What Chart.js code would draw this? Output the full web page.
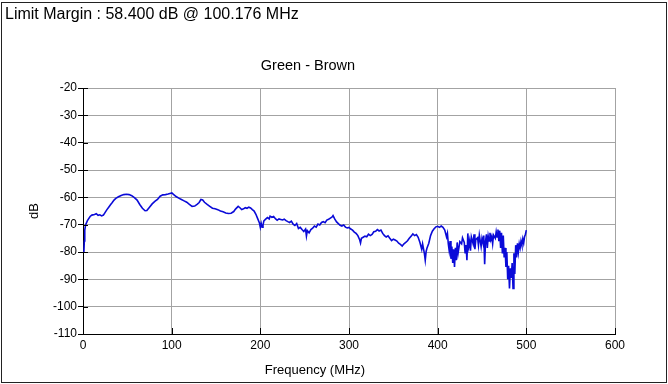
<!DOCTYPE html>
<html>
<head>
<meta charset="utf-8">
<script src="https://cdn.jsdelivr.net/npm/chart.js@4/dist/chart.umd.min.js"></script>
<style>
  body { margin: 0; background: #fff; }
  #wrap { position: relative; width: 668px; height: 384px; font-family: "Liberation Sans", Arial, sans-serif; color: #000; }
  #frame { position: absolute; left: 1px; top: 2px; width: 664px; height: 379px; border: 1px solid #222; }
  #topTitle { position: absolute; left: 5px; top: 5px; font-size: 16px; white-space: nowrap; }
  #chartTitle { position: absolute; left: 208px; width: 200px; top: 57px; font-size: 14.5px; text-align: center; }
  #xTitle { position: absolute; left: 215px; width: 200px; top: 362px; font-size: 13px; text-align: center; }
  canvas { position: absolute; left: 0; top: 0; }
</style>
</head>
<body>
<div id="wrap">
  <canvas id="mycanvas" width="668" height="384"></canvas>
  <div id="frame"></div>
  <div id="topTitle">Limit Margin : 58.400 dB @ 100.176 MHz</div>
  <div id="chartTitle">Green - Brown</div>
  <div id="xTitle">Frequency (MHz)</div>
</div>
<script>
var Freq = [1,1.5,2,3,5,8,10,13,15,17,19,21,23,25,27,29,31,33,35,37,40,43,46,49,52,55,58,61,64,67,70,72,75,78,81,84,87,90,93,96,99,100.2,102,105,108,111,114,117,120,123,126,129,131,133,135,137,140,143,146,149,152,155,158,161,164,167,170,172,175,177,179,181,183,185,187,189,191,193,195,197,199,200,201,202,203,204,206,208,210,211,213,215,217,219,221,223,225,227,229,231,233,235,237,239,241,243,245,247,249,251,252,253,255,257,259,261,263,265,267,269,271,273,275,277,279,281,282,284,286,288,290,292,294,296,298,300,302,304,306,308,310,312,313,314,316,318,320,322,324,326,328,330,332,334,336,338,340,342,344,346,348,350,352,354,356,358,360,362,364,366,368,370,372,374,376,378,380,382,383,385,386,387,388,390,392,394,396,398,400,402,404,406,408,410,411,412,413,414,415,416,417,418,419,420,421,422,423,425,427,428,430,431,432,433,434,435,436,437,438,440,441,442,443,445,446,447,449,450,451,452,453,454,455,456,457,458,459,460,461,462,463,465,466,467,468,469,470,471,472,473,474,475,476,477,478,479,480,481,482,483,484,485,486,487,488,489,490,491,492,493,494,495,496,497,498,499,500];
var GreenBrown = [-80,-76,-72,-70,-68.5,-67,-66.5,-66.3,-66,-66.6,-66.4,-66.8,-66.5,-65.5,-64.5,-63.6,-62.7,-61.9,-61,-60.4,-59.8,-59.3,-59,-58.9,-59,-59.4,-60.1,-61,-62.6,-64,-64.9,-64.8,-63.6,-62.4,-61.5,-60.8,-59.6,-59.1,-59,-58.8,-58.5,-58.4,-58.9,-59.7,-60.3,-60.8,-61.3,-61.8,-62.6,-63.3,-63.2,-62.5,-61.9,-60.8,-61,-61.8,-62.6,-63.3,-64,-64.2,-64.5,-65,-65.3,-65.7,-65.9,-65.8,-65.2,-64.3,-63.3,-63.8,-64.5,-64.2,-63.8,-64,-63.6,-63.9,-64.5,-65,-66.2,-67.8,-69.4,-71,-69.5,-70.9,-70.2,-68.6,-68,-67.4,-67.9,-66.9,-67.3,-67,-67.8,-68.4,-67.9,-68.1,-68.3,-68,-68.5,-68.9,-69.2,-68.7,-69.8,-70.3,-69.6,-71.4,-71,-71.8,-72.5,-71.6,-74.2,-72.2,-73,-71.8,-71.3,-70.5,-70.9,-69.8,-70.1,-69.2,-68.9,-69.3,-68.3,-68,-67.6,-67.2,-66.7,-68,-69,-69.6,-70.2,-70.5,-70.1,-70.9,-71.2,-71,-71.6,-72,-72.7,-73.2,-74,-75.5,-76.7,-75,-74.6,-74.2,-74.4,-73.5,-74,-73.6,-72.6,-72.4,-71.8,-72.3,-72,-73.2,-74,-74.5,-74.1,-75,-75.8,-75.3,-75.6,-76,-76.8,-77.2,-77.8,-77,-76.5,-75.9,-75,-74.2,-73.4,-74,-73.6,-74.6,-76.5,-79,-77,-80.5,-83,-79.8,-78.5,-76.8,-74,-72.4,-71.5,-70.8,-70.6,-71,-70.5,-71,-72,-74.5,-73.2,-77,-79.5,-76,-82.5,-78,-84,-79,-85.5,-78.5,-83,-76.5,-80.5,-76.2,-77,-74.8,-76.5,-80.5,-77.5,-83,-73.2,-78,-76,-79.5,-74.5,-77,-73.5,-79,-75.5,-74.8,-77.5,-73.8,-78,-75,-76.5,-74,-84.5,-76,-73.5,-78.5,-74.2,-76,-73,-75.5,-74.3,-77,-73.8,-75,-72.6,-74.5,-71.8,-76,-72.2,-78.5,-73,-80.5,-74,-82,-78.5,-85.5,-80,-90,-85,-93.3,-86,-89.5,-84,-93.3,-80.5,-88,-77.5,-82,-76.8,-80,-77,-78.5,-76,-77.5,-75.2,-76.8,-74.4,-73.5,-72];

var XTicks = [0, 100, 200, 300, 400, 500, 600];
var YTicks = [-20, -30, -40, -50, -60, -70, -80, -90, -100, -110];

var points = [];
for (var i in Freq) {
    points.push({x: Freq[i], y: GreenBrown[i]});
}

// short black tick marks inside the plot (the library only draws them outside)
var innerTicks = {
    id: 'innerTicks',
    afterDraw: function(chart) {
        var ctx = chart.ctx;
        var xs = chart.scales.x, ys = chart.scales.y;
        var area = chart.chartArea;
        ctx.save();
        ctx.strokeStyle = '#000';
        ctx.lineWidth = 1;
        ctx.beginPath();
        for (var j = 0; j < ys.ticks.length; j++) {
            var py = Math.round(ys.getPixelForValue(ys.ticks[j].value)) + 0.5;
            ctx.moveTo(area.left, py);
            ctx.lineTo(area.left + 5, py);
        }
        for (var k = 0; k < xs.ticks.length; k++) {
            var px = Math.round(xs.getPixelForValue(xs.ticks[k].value)) + 0.5;
            ctx.moveTo(px, area.bottom);
            ctx.lineTo(px, area.bottom - 6);
        }
        ctx.stroke();
        ctx.restore();
    }
};

var ctx = document.getElementById('mycanvas');
var LineGraph = new Chart(ctx, {
    type: 'line',
    data: {
        datasets: [{
            label: 'Green - Brown',
            data: points,
            borderColor: '#0a0ad8',
            borderWidth: 1.6,
            pointRadius: 0,
            fill: false,
            tension: 0
        }]
    },
    options: {
        responsive: false,
        animation: false,
        layout: { padding: { left: 0, right: 53, top: 88, bottom: 0 } },
        plugins: {
            legend: { display: false },
            tooltip: { enabled: false }
        },
        scales: {
            x: {
                type: 'linear',
                min: 0,
                max: 600,
                afterBuildTicks: function(scale) {
                    scale.ticks = XTicks.map(function(v) { return {value: v}; });
                },
                afterFit: function(scale) { scale.height = 50; },
                ticks: {
                    color: '#000',
                    padding: 4,
                    maxRotation: 0,
                    font: { family: 'Liberation Sans', size: 12 }
                },
                grid: { color: '#a3a3a3', lineWidth: 1, tickLength: 0 },
                border: { color: '#000', width: 1 }
            },
            y: {
                min: -110,
                max: -20,
                afterBuildTicks: function(scale) {
                    scale.ticks = YTicks.map(function(v) { return {value: v}; });
                },
                afterFit: function(scale) { scale.width = 83; },
                title: {
                    display: true,
                    text: 'dB',
                    color: '#000',
                    padding: { top: 27, bottom: 0 },
                    font: { family: 'Liberation Sans', size: 13 }
                },
                ticks: {
                    color: '#000',
                    padding: 1,
                    font: { family: 'Liberation Sans', size: 12 }
                },
                grid: { color: '#a3a3a3', lineWidth: 1, tickLength: 5, tickColor: '#000' },
                border: { color: '#000', width: 1 }
            }
        }
    },
    plugins: [innerTicks]
});
</script>
</body>
</html>
